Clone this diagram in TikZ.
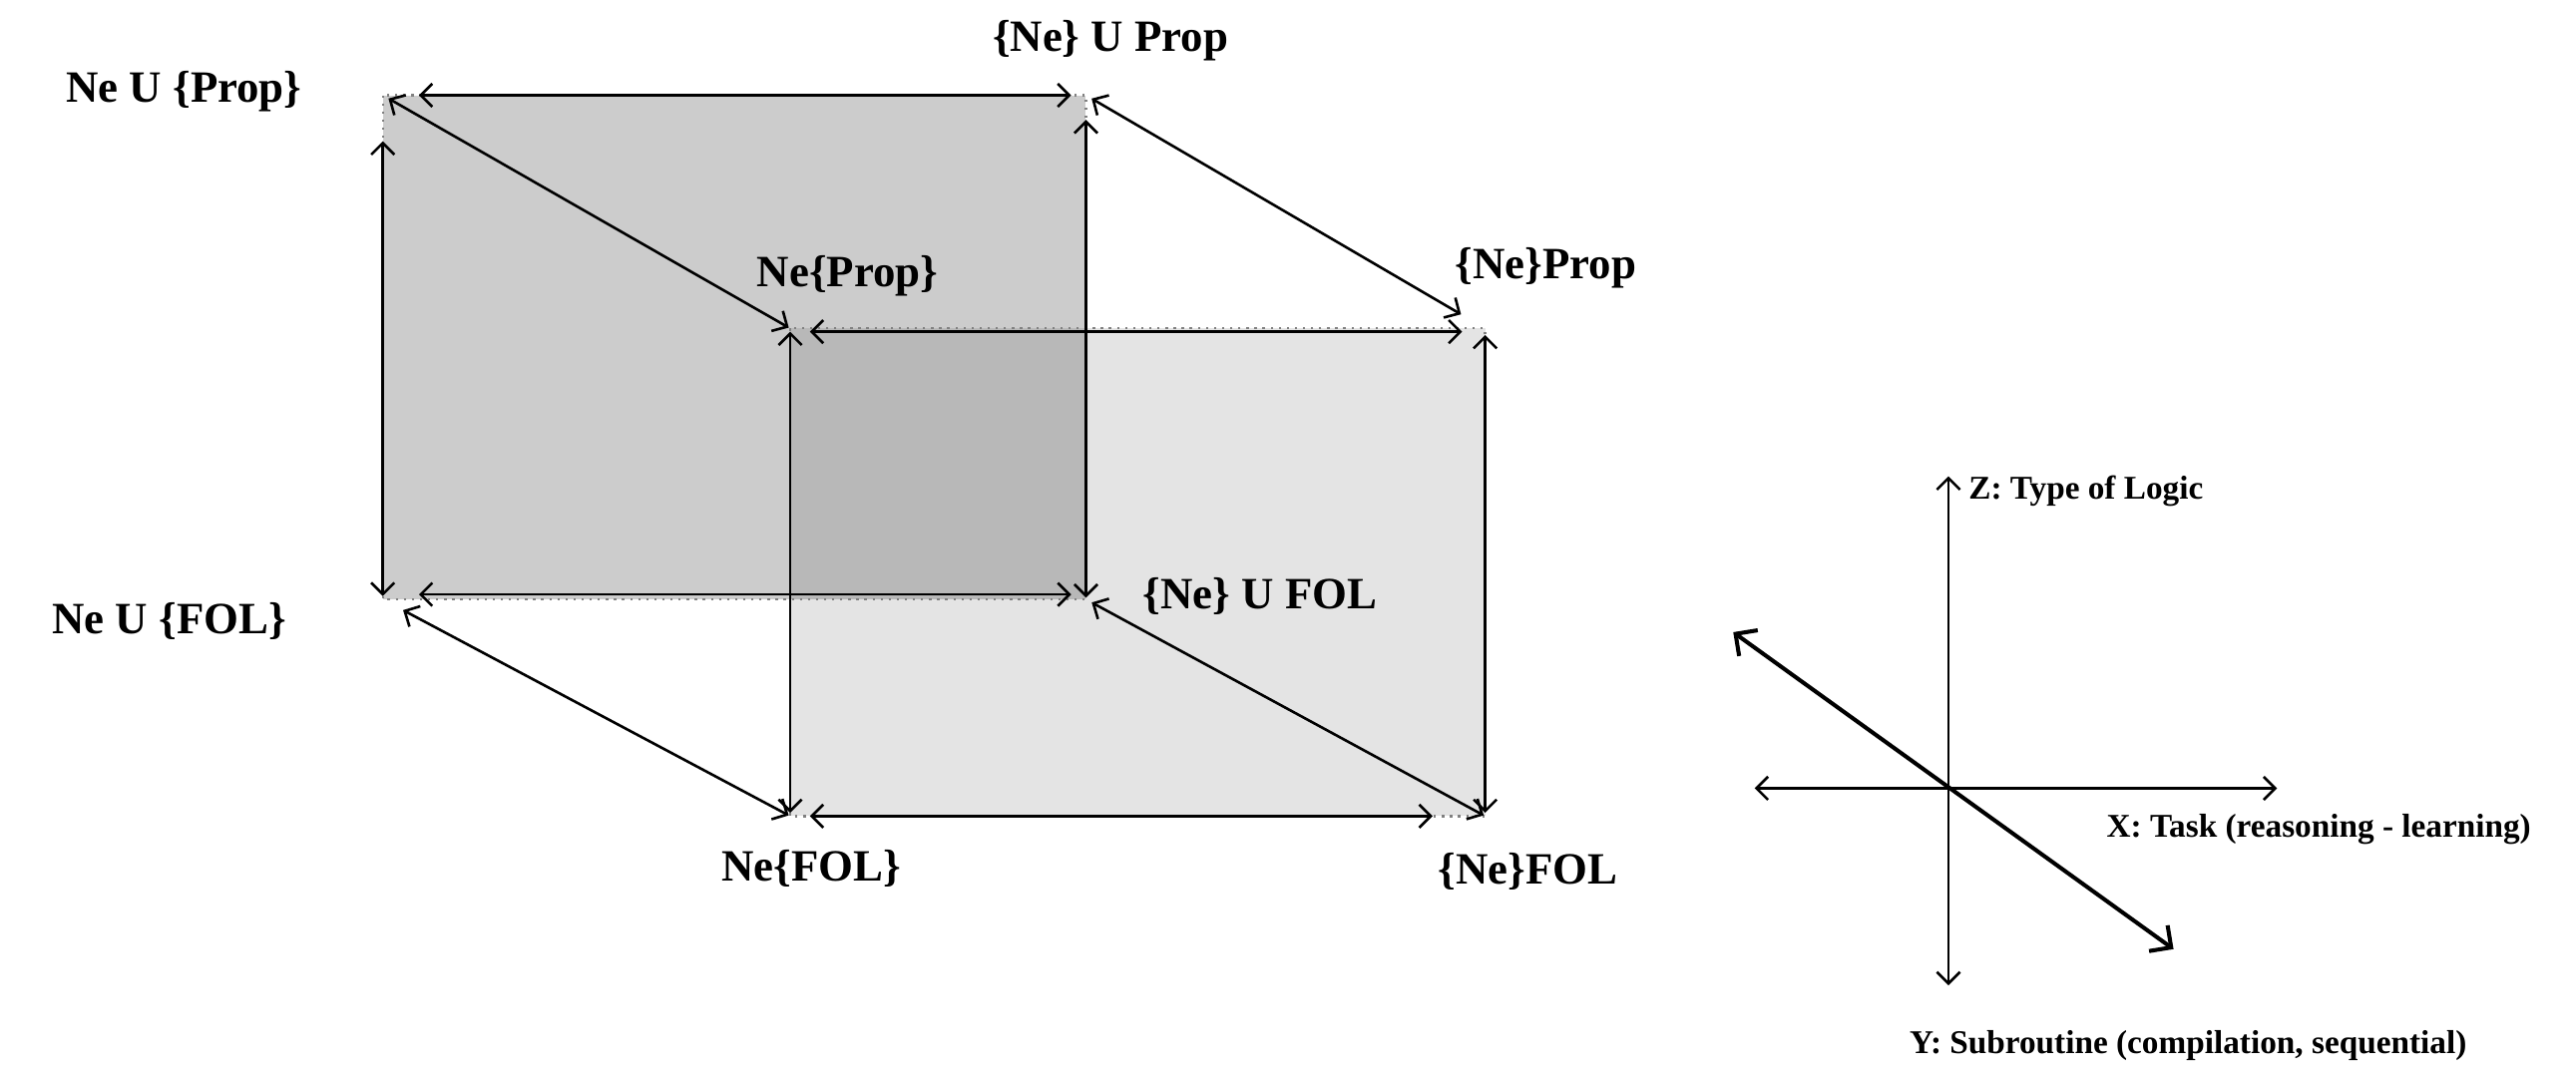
\documentclass[tikz,border=0pt]{standalone}
\usepackage{fontspec}
\setmainfont{Liberation Serif}
\usetikzlibrary{arrows.meta}
\definecolor{backfill}{HTML}{CCCCCC}
\definecolor{frontfill}{HTML}{E4E4E4}
\definecolor{overlapfill}{HTML}{B8B8B8}
\begin{document}
\begin{tikzpicture}[x=0.02cm,y=-0.02cm,
  edgearrow/.style={{Straight Barb[length=4pt,width=8pt]}-{Straight Barb[length=4pt,width=8pt]}, line width=0.9pt},
  axisarrow/.style={{Straight Barb[length=4pt,width=8pt]}-{Straight Barb[length=4pt,width=8pt]}, line width=0.9pt},
  diagaxis/.style={{Straight Barb[length=5.5pt,width=11pt]}-{Straight Barb[length=5.5pt,width=11pt]}, line width=1.4pt},
  border/.style={gray, dotted, line width=0.8pt},
  cornerlabel/.style={font=\bfseries\fontsize{15.5}{18}\selectfont, inner sep=0pt},
  axislabel/.style={font=\bfseries\fontsize{11.5}{14}\selectfont, inner sep=0pt, anchor=west}
]
\useasboundingbox (0,0) rectangle (1568,655);

% corners
\coordinate (BTL) at (233,58);
\coordinate (BTR) at (661,58);
\coordinate (BBL) at (233,365);
\coordinate (BBR) at (661,365);
\coordinate (FTL) at (481,200);
\coordinate (FTR) at (904,200);
\coordinate (FBL) at (481,497);
\coordinate (FBR) at (904,497);

% fills
\fill[backfill] (BTL) rectangle (BBR);
\fill[frontfill] (FTL) rectangle (FBR);
\fill[overlapfill] (FTL) rectangle (BBR);

% dotted borders
\draw[border] (BTL) rectangle (BBR);
\draw[border] (FTL) rectangle (FBR);

% back face edges
\draw[edgearrow, shorten <=0.44cm, shorten >=0.18cm] (BTL) -- (BTR);
\draw[edgearrow, shorten <=0.56cm, shorten >=0.04cm] (BTL) -- (BBL);
\draw[edgearrow, shorten <=0.44cm, shorten >=0.18cm] ([yshift=0.06cm]BBL) -- ([yshift=0.06cm]BBR);
\draw[edgearrow, shorten <=0.30cm, shorten >=0.02cm] (BTR) -- (BBR);

% front face edges
\draw[edgearrow, shorten <=0.24cm, shorten >=0.28cm] ([yshift=-0.04cm]FTL) -- ([yshift=-0.04cm]FTR);
\draw[edgearrow, shorten <=0.04cm, shorten >=0.04cm] (FTL) -- (FBL);
\draw[edgearrow, shorten <=0.24cm, shorten >=0.64cm] (FBL) -- (FBR);
\draw[edgearrow, shorten <=0.08cm, shorten >=0.04cm] (FTR) -- (FBR);

% depth edges
\draw[edgearrow, shorten <=0.08cm, shorten >=0.02cm] (BTL) -- (FTL);
\draw[edgearrow, shorten <=0.08cm, shorten >=0.34cm] (BTR) -- (FTR);
\draw[edgearrow, shorten <=0.28cm, shorten >=0.02cm] (BBL) -- (FBL);
\draw[edgearrow, shorten <=0.08cm, shorten >=0.02cm] (BBR) -- (FBR);

% corner labels
\node[cornerlabel] (lBTL) at (112,56) {Ne U \{Prop\}};
\node[cornerlabel] (lBTR) at (676,25) {\{Ne\} U Prop};
\node[cornerlabel] (lFTL) at (516,168) {Ne\{Prop\}};
\node[cornerlabel] (lFTR) at (941,163) {\{Ne\}Prop};
\node[cornerlabel] (lBBL) at (103,378) {Ne U \{FOL\}};
\node[cornerlabel] (lBBR) at (767,363) {\{Ne\} U FOL};
\node[cornerlabel] (lFBL) at (494,529) {Ne\{FOL\}};
\node[cornerlabel] (lFBR) at (930,531) {\{Ne\}FOL};

% axes
\coordinate (Zt) at (1186,290);
\coordinate (Yb) at (1186,600);
\coordinate (Xl) at (1068,480);
\coordinate (Xr) at (1386,480);
\coordinate (Dl) at (1055,385);
\coordinate (Dr) at (1323,578);
\draw[axisarrow] (Zt) -- (Yb);
\draw[axisarrow] (Xl) -- (Xr);
\draw[diagaxis] (Dl) -- (Dr);

\node[axislabel] (zlab) at (1198,299) {Z: Type of Logic};
\node[axislabel] (xlab) at (1282,505) {X: Task (reasoning - learning)};
\node[axislabel] (ylab) at (1162,637) {Y: Subroutine (compilation, sequential)};
\end{tikzpicture}
\end{document}
